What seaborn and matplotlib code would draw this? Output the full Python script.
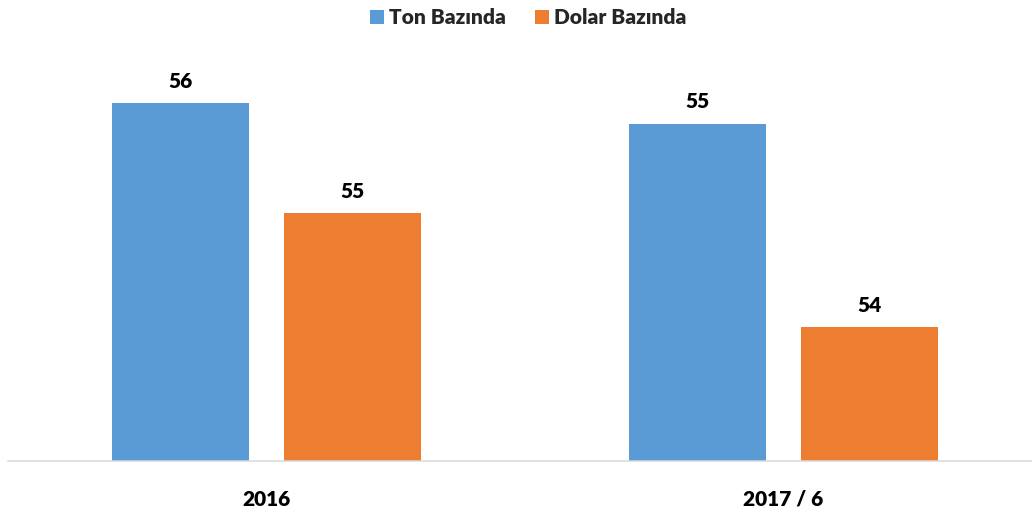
import matplotlib
matplotlib.use("Agg")
import matplotlib.pyplot as plt
import seaborn as sns
import pandas as pd
from matplotlib.patches import Patch

periods = ["2016", "2017 / 6"]
series_names = ["Ton Bazında", "Dolar Bazında"]
ton_values = [55.6, 55.45]
dolar_values = [54.8, 53.97]
colors = ["#5B9BD5", "#ED7D31"]

df = pd.DataFrame({
    "period": periods * 2,
    "series": [series_names[0]] * 2 + [series_names[1]] * 2,
    "value": ton_values + dolar_values,
})

sns.set_theme(style="white")
plt.rcParams["font.family"] = ["Lato", "DejaVu Sans"]
plt.rcParams["font.weight"] = "heavy"

fig = plt.figure(figsize=(10.32, 5.13), dpi=100)
W, H = 1032, 513
ax = fig.add_axes([8 / W, (H - 460.7) / H, 1 - 8 / W, 460.7 / H])

sns.barplot(data=df, x="period", y="value", hue="series", order=periods,
            hue_order=series_names, palette=colors, width=0.666, gap=0.2,
            saturation=1, linewidth=0, ax=ax, legend=False)

ax.set_xlim(-0.5, 1.4807)
ax.set_ylim(53, 56.35)

for cont in ax.containers:
    ax.bar_label(cont, fmt="%.0f", padding=9, fontsize=15, fontweight="heavy", color="black")

for s in ["left", "right", "top"]:
    ax.spines[s].set_visible(False)
ax.spines["bottom"].set_color("#d9d9d9")
ax.spines["bottom"].set_linewidth(1.1)
ax.set_yticks([])
ax.set_xlabel("")
ax.set_ylabel("")
ax.tick_params(axis="x", length=0, pad=21, labelsize=15)
for lbl in ax.get_xticklabels():
    lbl.set_fontweight("heavy")
    lbl.set_color("black")

handles = [Patch(facecolor=c, edgecolor="none") for c in colors]
fig.legend(handles, series_names, loc="center", bbox_to_anchor=(528 / W, 1 - 17.5 / H),
           ncol=2, frameon=False, handlelength=0.67, handleheight=0.67,
           handletextpad=0.25, columnspacing=1.4, borderpad=0,
           prop={"weight": "heavy", "size": 15})

fig.savefig("out.png", dpi=100)
